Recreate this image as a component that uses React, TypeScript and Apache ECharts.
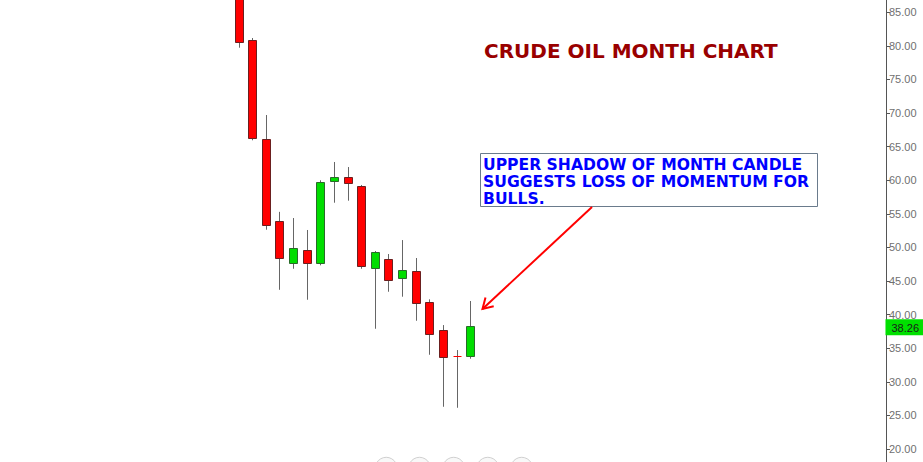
import { useEffect, useRef } from 'react'
import * as echarts from 'echarts'

// monthly bars, Oct 2014 .. Mar 2016
const months = [
  '2014-10', '2014-11', '2014-12', '2015-01', '2015-02', '2015-03',
  '2015-04', '2015-05', '2015-06', '2015-07', '2015-08', '2015-09',
  '2015-10', '2015-11', '2015-12', '2016-01', '2016-02', '2016-03'
]
const opens = [91.2, 80.83, 66.1, 53.9, 47.64, 49.57, 47.64, 59.84, 60.44, 59.14, 46.9, 48.23, 45.4, 46.45, 41.88, 37.71, 33.8, 33.79]
const closes = [80.62, 66.24, 53.3, 48.4, 49.87, 47.64, 59.7, 60.44, 59.55, 47.19, 49.27, 45.11, 46.6, 41.68, 37.07, 33.65, 33.8, 38.26]
const lows = [79.73, 65.95, 52.64, 43.7, 46.83, 42.22, 47.34, 56.66, 56.96, 46.83, 37.9, 43.41, 42.67, 39.09, 34.03, 26.29, 26.14, 33.44]
const highs = [92.2, 81.17, 69.71, 55.3, 54.38, 52.6, 60.0, 62.72, 61.97, 59.3, 49.47, 49.02, 51.1, 48.43, 42.28, 38.45, 34.73, 42.03]

// empty month slots before (prices above the visible range) and after (future)
const leadSlots = 17
const trailSlots = 30

const lastPrice = 38.26
// visible price window of the screen
const yMin = 18.07
const yMax = 86.83

const title = 'CRUDE OIL MONTH CHART'
const note = 'UPPER SHADOW OF MONTH CANDLE\nSUGGESTS LOSS OF MOMENTUM FOR\nBULLS.'

const categories = [
  ...Array.from({ length: leadSlots }, (_, i) => `lead-${i}`),
  ...months,
  ...Array.from({ length: trailSlots }, (_, i) => `next-${i}`)
]

export default function App() {
  const chartRef = useRef<HTMLDivElement>(null)

  useEffect(() => {
    if (!chartRef.current) return
    document.body.style.margin = '0'
    const chart = echarts.init(chartRef.current, null, { renderer: 'svg' })

    const data = months.map((m, i) => [m, opens[i], closes[i], lows[i], highs[i]])

    const renderCandle = (params: any, api: any) => {
      const idx = api.value(0)
      const o = api.value(1)
      const c = api.value(2)
      const l = api.value(3)
      const h = api.value(4)
      const pH = api.coord([idx, h])
      const pL = api.coord([idx, l])
      const pO = api.coord([idx, o])
      const pC = api.coord([idx, c])
      const cx = Math.round(pH[0]) + 0.5
      const half = 4
      const children: any[] = [
        {
          type: 'line',
          shape: { x1: cx, y1: pH[1], x2: cx, y2: pL[1] },
          style: { stroke: '#666666', lineWidth: 1 }
        }
      ]
      if (o === c) {
        const y = Math.round(pO[1]) + 0.5
        children.push({
          type: 'line',
          shape: { x1: cx - half, y1: y, x2: cx + half, y2: y },
          style: { stroke: '#ff0000', lineWidth: 1 }
        })
      } else {
        const up = c > o
        const top = Math.round(Math.min(pO[1], pC[1])) + 0.5
        const bottom = Math.round(Math.max(pO[1], pC[1])) + 0.5
        children.push({
          type: 'rect',
          shape: { x: cx - half, y: top, width: half * 2, height: bottom - top },
          style: {
            fill: up ? '#00dd00' : '#ff0000',
            stroke: up ? '#2a6a2a' : '#6b1f1f',
            lineWidth: 1
          }
        })
      }
      return { type: 'group', children }
    }

    const option = {
      animation: false,
      backgroundColor: '#ffffff',
      axisPointer: { triggerOn: 'none' },
      grid: {
        left: 0,
        right: 37,
        top: 0,
        bottom: 0
      },
      xAxis: {
        type: 'category',
        data: categories,
        show: false,
        boundaryGap: true
      },
      yAxis: {
        type: 'value',
        position: 'right',
        min: yMin,
        max: yMax,
        splitNumber: 14,
        axisLine: { show: true, lineStyle: { color: '#555555', width: 1 } },
        axisTick: { show: true, length: 4, lineStyle: { color: '#555555' } },
        axisLabel: {
          color: '#707070',
          fontSize: 11,
          fontFamily: 'Liberation Sans, Arial, sans-serif',
          margin: 3,
          showMinLabel: false,
          showMaxLabel: false,
          formatter: (v: number) => v.toFixed(2)
        },
        splitLine: { show: false },
        // last price tag on the price scale
        axisPointer: {
          show: true,
          type: 'line',
          value: lastPrice,
          status: 'show',
          snap: false,
          triggerTooltip: false,
          lineStyle: { opacity: 0 },
          label: {
            show: true,
            margin: 0,
            formatter: (p: any) => Number(p.value).toFixed(2),
            backgroundColor: '#00e000',
            color: '#1a1a1a',
            fontSize: 11,
            fontFamily: 'Liberation Sans, Arial, sans-serif',
            lineHeight: 13,
            padding: [2, 4, 1, 6],
            borderRadius: 0,
            shadowBlur: 0,
            borderWidth: 0
          }
        }
      },
      series: [
        {
          type: 'custom',
          name: 'Crude Oil',
          renderItem: renderCandle,
          encode: { x: 0, y: [1, 2, 3, 4] },
          clip: true,
          data
        }
      ],
      graphic: [
        {
          type: 'text',
          style: {
            text: title,
            x: 484,
            y: 50.5,
            fill: '#990000',
            font: 'bold 20px "DejaVu Sans", Verdana, sans-serif',
            verticalAlign: 'middle'
          }
        },
        {
          type: 'rect',
          shape: { x: 480.5, y: 153.5, width: 337, height: 53 },
          style: { fill: '#ffffff', stroke: '#6a7b8c', lineWidth: 1 }
        },
        {
          type: 'text',
          style: {
            text: note,
            x: 483,
            y: 156.1,
            fill: '#0000ff',
            font: 'bold 15.6px "DejaVu Sans", Verdana, sans-serif',
            lineHeight: 17,
            verticalAlign: 'top'
          }
        },
        {
          type: 'line',
          shape: { x1: 592, y1: 207, x2: 482.5, y2: 309 },
          style: { stroke: '#ff0000', lineWidth: 2 }
        },
        {
          type: 'polyline',
          shape: { points: [[493.7, 306.3], [482.5, 309], [485.5, 297.5]] },
          style: { stroke: '#ff0000', lineWidth: 2, fill: null }
        },
        ...[386.2, 419.5, 453.7, 487.8, 521.7].map((cx) => ({
          type: 'circle',
          shape: { cx, cy: 468.3, r: 11 },
          style: { fill: '#f8f8f8', stroke: '#d0d0d0', lineWidth: 1 }
        }))
      ]
    }

    chart.setOption(option as any)

    return () => {
      chart.dispose()
    }
  }, [])

  return <div ref={chartRef} style={{ width: 923, height: 462 }} />
}
